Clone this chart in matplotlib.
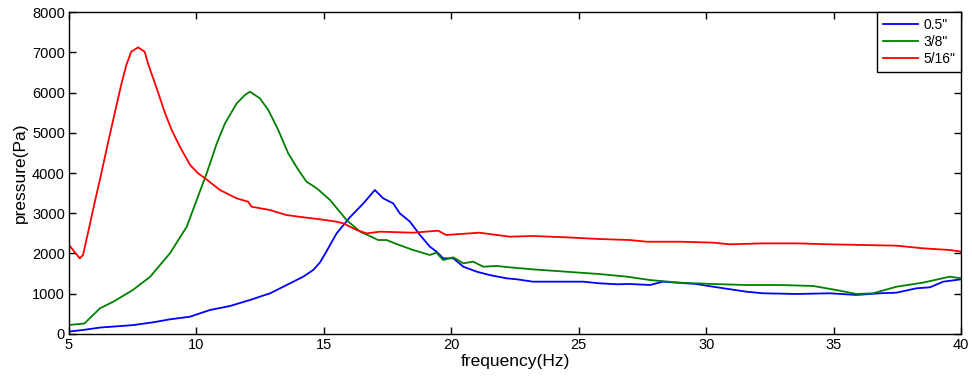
import matplotlib
matplotlib.use("Agg")
import matplotlib.pyplot as plt
import numpy as np

plt.rcParams["font.family"] = ["Liberation Sans", "DejaVu Sans"]

# 0.5" bore
freq_05 = [5.0, 5.55, 6.22, 7.5, 8.3, 8.96, 9.75, 10.53, 11.32, 12.1, 12.89, 13.54,
           14.19, 14.58, 14.85, 15.1, 15.5, 16.02, 16.55, 17.0, 17.33, 17.72,
           17.98, 18.38, 18.77, 19.16, 19.42, 19.68, 20.08, 20.47, 21.0, 21.5,
           22.17, 22.56, 23.2, 23.87, 25.17, 25.8, 26.5, 27.0, 27.8, 28.3, 29.6,
           30.27, 31.58, 32.24, 33.55, 34.85, 35.9, 36.8, 37.47, 38.25, 38.78,
           39.3, 40.0]
pres_05 = [60, 100, 160, 220, 290, 364, 430, 596, 696, 845, 1011, 1217,
           1424, 1590, 1780, 2050, 2500, 2900, 3245, 3578, 3370, 3245,
           2997, 2790, 2460, 2170, 2046, 1880, 1880, 1672, 1548, 1465,
           1383, 1360, 1300, 1300, 1300, 1260, 1235, 1242, 1217, 1300, 1242,
           1175, 1051, 1011, 994, 1011, 970, 1011, 1027, 1135, 1160,
           1300, 1358]

# 3/8" bore
freq_38 = [5.0, 5.6, 6.22, 6.73, 7.5, 8.18, 8.96, 9.62, 10.01, 10.4, 10.8, 11.12,
           11.58, 11.9, 12.1, 12.49, 12.82, 13.21, 13.6, 14.0, 14.32, 14.72,
           15.24, 15.89, 16.42, 16.8, 17.13, 17.46, 17.85, 18.5, 19.16, 19.42,
           19.68, 20.08, 20.47, 20.86, 21.25, 21.77, 22.3, 23.2, 24.5, 25.8,
           26.9, 27.8, 28.97, 30.27, 31.58, 32.9, 34.2, 35.1, 35.9, 36.55,
           37.47, 38.5, 39.56, 40.0]
pres_38 = [224, 260, 640, 800, 1090, 1420, 2005, 2666, 3330, 3990, 4738, 5234,
           5730, 5938, 6020, 5855, 5565, 5068, 4490, 4075, 3784, 3620,
           3330, 2832, 2542, 2435, 2335, 2335, 2236, 2087, 1963, 2020,
           1838, 1905, 1755, 1797, 1672, 1690, 1656, 1606, 1548, 1490,
           1424, 1340, 1275, 1242, 1217, 1217, 1193, 1093, 994, 1011,
           1175, 1275, 1424, 1384]

# 5/16" bore
freq_516 = [5.0, 5.42, 5.55, 5.81, 6.0, 6.27, 6.53, 6.79, 7.05, 7.25, 7.44, 7.71,
            7.97, 8.1, 8.44, 8.77, 9.03, 9.35, 9.75, 10.07, 10.34, 10.92, 11.58,
            12.03, 12.16, 12.88, 13.53, 14.19, 14.85, 15.5, 15.76, 16.29, 16.68,
            17.2, 18.5, 19.48, 19.8, 21.1, 22.3, 23.2, 24.5, 25.8, 27.0, 27.66,
            28.97, 30.27, 30.93, 32.24, 33.55, 34.85, 36.15, 37.47, 38.5, 39.56,
            40.0]
pres_516 = [2211, 1880, 1963, 2700, 3250, 4000, 4750, 5480, 6200, 6683, 7014, 7122,
            7014, 6720, 6104, 5483, 5068, 4654, 4200, 3990, 3868, 3578, 3370,
            3287, 3163, 3081, 2956, 2900, 2850, 2790, 2750, 2584, 2500,
            2542, 2517, 2567, 2460, 2517, 2418, 2435, 2402, 2360, 2335, 2293,
            2293, 2270, 2228, 2252, 2252, 2228, 2211, 2195, 2129, 2087,
            2046]

labels = ['0.5"', '3/8"', '5/16"']

fig = plt.figure(figsize=(9.72, 3.81), dpi=100)
ax = fig.add_axes([0.071, 0.1234, 0.9177, 0.845])
ax.plot(freq_05, pres_05, color="#0000ff", lw=1.3, label=labels[0])
ax.plot(freq_38, pres_38, color="#008000", lw=1.3, label=labels[1])
ax.plot(freq_516, pres_516, color="#ff0000", lw=1.3, label=labels[2])

ax.set_xlim(5, 40)
ax.set_ylim(0, 8000)
ax.set_xticks(np.arange(5, 41, 5))
ax.set_yticks(np.arange(0, 8001, 1000))
ax.tick_params(direction="in", length=5, width=1, top=True, right=True,
               labelsize=10.5, colors="black", pad=3)
for s in ax.spines.values():
    s.set_linewidth(1.0)
ax.set_xlabel("frequency(Hz)", fontsize=12.5, labelpad=1)
ax.set_ylabel("pressure(Pa)", fontsize=12.5, labelpad=3)

leg = ax.legend(loc="upper right", fontsize=10, handlelength=2.5,
                borderaxespad=0, fancybox=False, framealpha=1,
                edgecolor="black", labelspacing=0.22, borderpad=0.42,
                handletextpad=0.4)
leg.get_frame().set_linewidth(1.0)

fig.savefig("out.png", dpi=100)
